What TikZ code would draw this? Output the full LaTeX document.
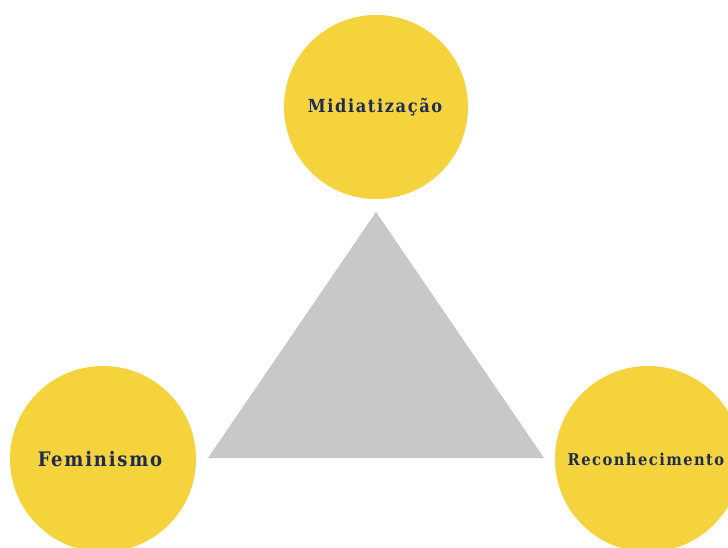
\documentclass[tikz,border=0pt]{standalone}
\usepackage{fontspec}
\newfontfamily\lblfont[LetterSpace=9]{DejaVu Serif Condensed}
\definecolor{circyellow}{HTML}{F4D33D}
\definecolor{trigray}{HTML}{C8C8C8}
\definecolor{lblnavy}{HTML}{1F2B55}
\begin{document}
\begin{tikzpicture}[x=1pt,y=1pt, every node/.style={text=lblnavy, font=\lblfont\bfseries}]
			\clip (0,0) rectangle (728,547);
			\fill[white] (0,0) rectangle (728,547);
			\fill[trigray] (376,335) -- (208,89) -- (544,89) -- cycle;
			\fill[circyellow] (376,440) circle (92);
			\fill[circyellow] (103,88) circle (93);
			\fill[circyellow] (648,88) circle (93);
			\node (M) at (375,440) {\fontsize{18}{21}\selectfont Midiatização};
			\node (F) at (100,88) {\fontsize{20}{24}\selectfont Feminismo};
			\node (R) at (646,88) {\fontsize{16.3}{19}\selectfont Reconhecimento};
		\end{tikzpicture}
\end{document}
